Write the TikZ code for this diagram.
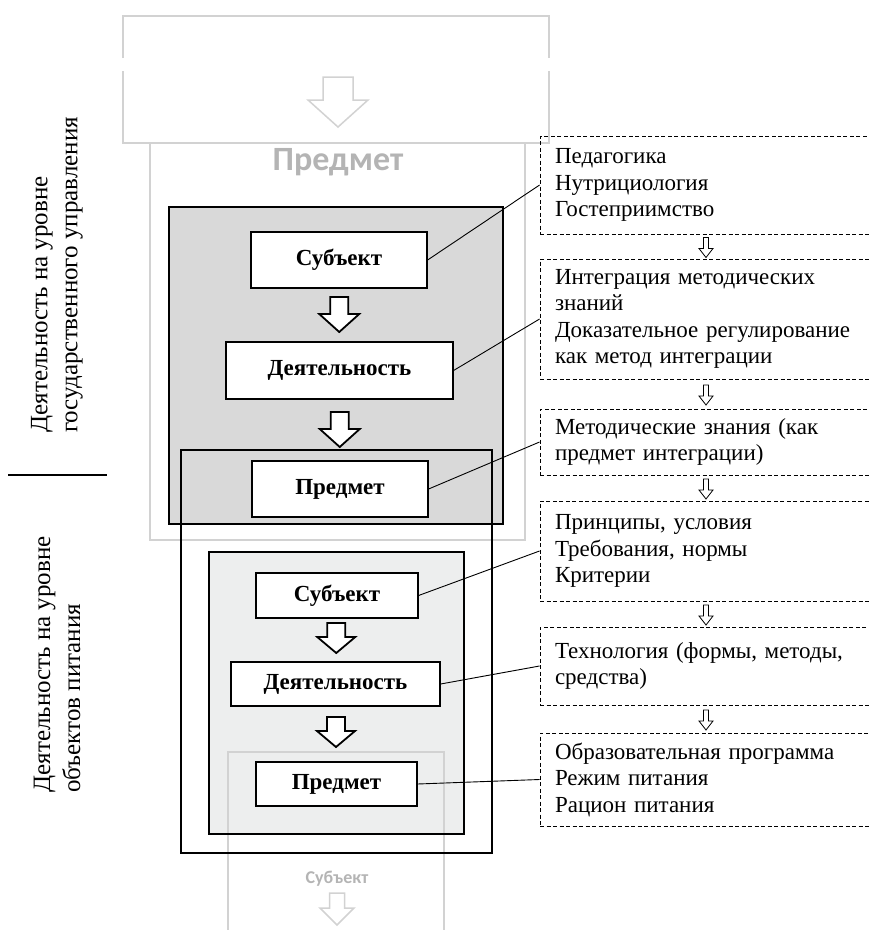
\documentclass[tikz,border=0pt]{standalone}
\usepackage{fontspec}
\setmainfont{Liberation Serif}
\newfontfamily\fadefont{Carlito}
\usetikzlibrary{calc}

\definecolor{fadeline}{HTML}{D2D2D2}
\definecolor{fadetext}{HTML}{B4B4B4}
\definecolor{govfill}{HTML}{D9D9D9}
\definecolor{objfill}{HTML}{EDEEEE}

\tikzset{
  stage/.style={draw, line width=1.2pt, fill=white, inner sep=0pt,
    font=\fontsize{23}{26}\selectfont\bfseries},
  infobox/.style={draw, dash pattern=on 4pt off 2.5pt, line width=0.9pt,
    minimum width=332pt, text width=302pt, inner xsep=15pt, inner ysep=0pt,
    align=left, font=\fontsize{23}{26.5}\selectfont},
  sidelabel/.style={rotate=90, anchor=west, align=left, inner sep=0pt,
    font=\fontsize{25}{30}\selectfont},
  link/.style={line width=0.9pt},
  frame/.style={line width=2.5pt},
  fade/.style={draw=fadeline, line width=2pt},
  fadelabel/.style={text=fadetext, inner sep=0pt},
  bigarrow/.style={draw, line width=1.8pt, fill=white},
  smallarrow/.style={draw, line width=0.8pt, fill=white},
}

\begin{document}
\begin{tikzpicture}[x=1pt, y=-1pt]
  \useasboundingbox (0,0) rectangle (869,930);
  \clip (0,0) rectangle (869,930);
  % Faded upper level
  \draw[fade] (123,58) -- (123,16) -- (549,16) -- (549,58);
  \draw[fade] (123,71) -- (123,143) -- (549,143) -- (549,71);
  \draw[fade] (150,143) rectangle (525,540);
  \draw[draw=fadeline, line width=1.5pt, fill=white] (338,100)
    +(-15,-23) -- +(15,-23) -- +(15,0) -- +(30,0) -- +(0,27) -- +(-30,0) -- +(-15,0) -- cycle;
  \node[fadelabel, font=\fadefont\bfseries\fontsize{34}{38}\selectfont] (fadeobj) at (338,162) {Предмет};
  % Level frames
  \fill[govfill] (169,207) rectangle (503,524);
  \fill[objfill] (209,552) rectangle (464,834);
  \draw[fade] (228,940) -- (228,752) -- (444,752) -- (444,940);
  \draw[frame] (169,207) rectangle (503,524);
  \draw[frame] (181,450) rectangle (492,853);
  \draw[frame] (209,552) rectangle (464,834);
  % Faded lower level
  \node[fadelabel, font=\fadefont\bfseries\fontsize{18}{20}\selectfont] (fadesubj) at (337,879) {Субъект};
  \draw[draw=fadeline, line width=1.5pt, fill=white] (337,908)
    +(-7.5,-15) -- +(7.5,-15) -- +(7.5,0) -- +(17,0) -- +(0,17) -- +(-17,0) -- +(-7.5,0) -- cycle;
  % Stages
  \node[stage, minimum width=176pt, minimum height=56pt] (gsubj) at (339,260) {Субъект};
  \node[stage, minimum width=227pt, minimum height=57pt] (gact) at (339.5,370.5) {Деятельность};
  \node[stage, minimum width=176pt, minimum height=56pt] (gobj) at (340,489) {Предмет};
  \node[stage, minimum width=162pt, minimum height=45pt] (osubj) at (337,595.5) {Субъект};
  \node[stage, minimum width=209pt, minimum height=44pt] (oact) at (335.5,684) {Деятельность};
  \node[stage, minimum width=161pt, minimum height=44pt] (oobj) at (336.5,784) {Предмет};
  \foreach \a/\b in {gsubj/gact, gact/gobj}
    \draw[bigarrow] ($(\a.south)!0.5!(\b.north)$)
      +(-9,-18) -- +(9,-18) -- +(9,-1) -- +(20,-1) -- +(0,17) -- +(-20,-1) -- +(-9,-1) -- cycle;
  \foreach \a/\b in {osubj/oact, oact/oobj}
    \draw[bigarrow] ($(\a.south)!0.5!(\b.north)$)
      +(-9,-17) -- +(9,-17) -- +(9,-3) -- +(19,-3) -- +(0,13) -- +(-19,-3) -- +(-9,-3) -- cycle;
  % Side labels
  \node[sidelabel] (govlabel) at (57,433) {Деятельность на уровне\\государственного управления};
  \node[sidelabel] (objlabel) at (57,793) {Деятельность на уровне\\объектов питания};
  \draw[line width=1.5pt] (8,475) -- (107,475);
  % Content boxes
  \node[infobox, minimum height=98pt] (dsci) at (706,185) {Педагогика\\Нутрициология\\Гостеприимство};
  \node[infobox, minimum height=120pt] (dinteg) at (706,319) {Интеграция методических\\знаний\\Доказательное регулирование\\как метод интеграции};
  \node[infobox, minimum height=66pt] (dknow) at (706,442) {Методические знания (как\\предмет интеграции)};
  \node[infobox, minimum height=100pt] (dnorm) at (706,551) {Принципы, условия\\Требования, нормы\\Критерии};
  \node[infobox, minimum height=78pt] (dtech) at (706,666) {Технология (формы, методы,\\средства)};
  \node[infobox, minimum height=93pt] (dprog) at (706,779.5) {Образовательная программа\\Режим питания\\Рацион питания};
  \foreach \a/\b in {dsci/dinteg, dinteg/dknow, dknow/dnorm, dnorm/dtech, dtech/dprog}
    \draw[smallarrow] ($(\a.south)!0.5!(\b.north)$)
      +(-2.5,-9) -- +(2.5,-9) -- +(2.5,2) -- +(7,2) -- +(0,11) -- +(-7,2) -- +(-2.5,2) -- cycle;
  % Links
  \draw[link] (gsubj.east) -- (dsci.west);
  \draw[link] (gact.east) -- (dinteg.west);
  \draw[link] (gobj.east) -- (dknow.west);
  \draw[link] (osubj.east) -- (dnorm.west);
  \draw[link] (oact.east) -- (dtech.west);
  \draw[link] (oobj.east) -- (dprog.west);
\end{tikzpicture}
\end{document}
